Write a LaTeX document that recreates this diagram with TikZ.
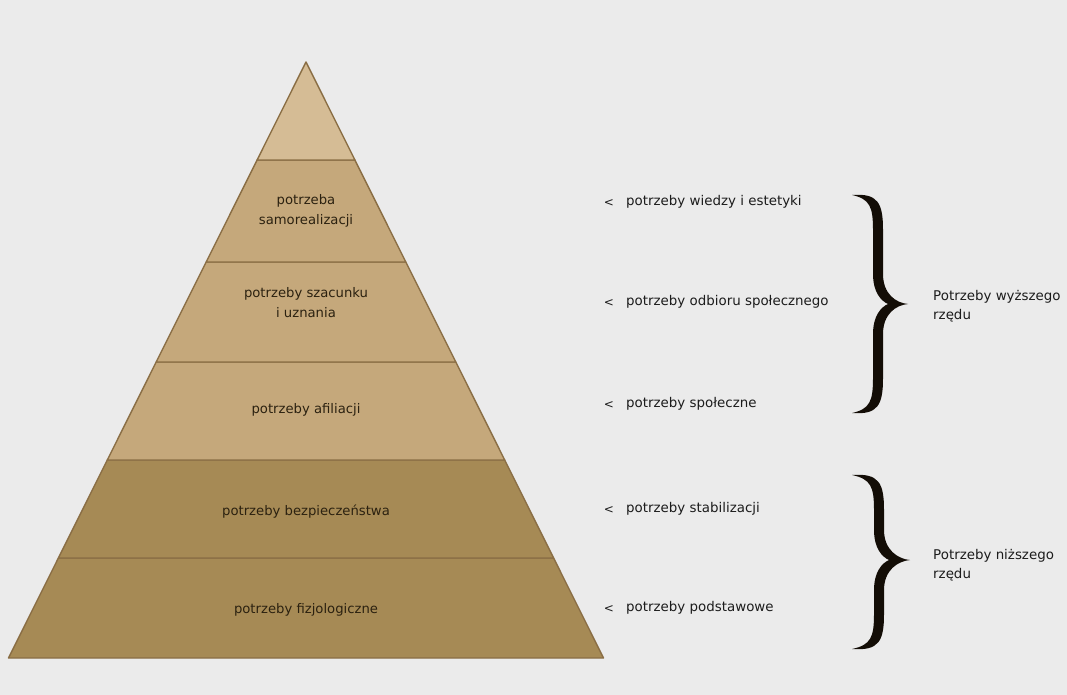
\documentclass[tikz,border=0pt]{standalone}
\usepackage{fontspec}
\setmainfont{DejaVu Sans}
\definecolor{bg}{HTML}{EBEBEB}
\definecolor{tanA}{HTML}{D5BC95}
\definecolor{tanB}{HTML}{C5A87B}
\definecolor{tanC}{HTML}{A68A55}
\definecolor{edgec}{HTML}{8A6E45}
\definecolor{labc}{HTML}{2B2110}
\definecolor{txtc}{HTML}{1C1C1C}
\newcommand{\mybrace}[6]{% #1 top y, #2 tip y, #3 bottom y, #4 end x, #5 stem x, #6 tip x
  \fill[black!90!brown] (#4,#1)
    .. controls (#5,#1-2) and (#5+5,#1+8) .. (#5+5,#1+35)
    -- (#5+5,#2-30)
    .. controls (#5+5,#2-10) and (#6-12,#2-1) .. (#6,#2)
    .. controls (#6-12,#2+1) and (#5+5,#2+10) .. (#5+5,#2+30)
    -- (#5+5,#3-35)
    .. controls (#5+5,#3-8) and (#5,#3+2) .. (#4,#3)
    .. controls (#5-8,#3-4) and (#5-5,#3-12) .. (#5-5,#3-35)
    -- (#5-5,#2+30)
    .. controls (#5-5,#2+12) and (#5+3,#2+3) .. (#5+10,#2)
    .. controls (#5+3,#2-3) and (#5-5,#2-12) .. (#5-5,#2-30)
    -- (#5-5,#1+35)
    .. controls (#5-5,#1+12) and (#5-8,#1+4) .. (#4,#1) -- cycle;}
\begin{document}
\begin{tikzpicture}[x=1pt,y=-1pt,
  band/.style={draw=edgec,line width=1.4pt,line join=round},
  lab/.style={text=labc,font=\fontsize{13.2}{20}\selectfont,align=center,inner sep=0pt},
  rtxt/.style={text=txtc,font=\fontsize{13.4}{20}\selectfont,anchor=west,inner sep=0pt},
  arr/.style={text=txtc,font=\fontsize{12}{14}\selectfont,inner sep=0pt},
  blab/.style={text=txtc,font=\fontsize{13.4}{18.5}\selectfont,anchor=west,align=left,inner sep=0pt}]
\fill[bg] (0,0) rectangle (1067,695);
\useasboundingbox (0,0) rectangle (1067,695);
% pyramid bands
\filldraw[band,fill=tanC] (8.5,658) -- (603.5,658) -- (553.6,558) -- (58.4,558) -- cycle;
\filldraw[band,fill=tanC] (58.4,558) -- (553.6,558) -- (504.7,460) -- (107.3,460) -- cycle;
\filldraw[band,fill=tanB] (107.3,460) -- (504.7,460) -- (455.8,362) -- (156.2,362) -- cycle;
\filldraw[band,fill=tanB] (156.2,362) -- (455.8,362) -- (405.8,262) -- (206.2,262) -- cycle;
\filldraw[band,fill=tanB] (206.2,262) -- (405.8,262) -- (354.9,160) -- (257.1,160) -- cycle;
\filldraw[band,fill=tanA] (257.1,160) -- (354.9,160) -- (306,62) -- cycle;
% pyramid labels
\node[lab] (l1) at (306,211) {potrzeba\\samorealizacji};
\node[lab] (l2) at (306,303) {potrzeby szacunku\\i uznania};
\node[lab] (l3) at (306,410) {potrzeby afiliacji};
\node[lab] (l4) at (306,512) {potrzeby bezpieczeństwa};
\node[lab] (l5) at (306,610) {potrzeby fizjologiczne};
% right column
\node[arr] (a1) at (609,203) {<};
\node[arr] (a2) at (609,303) {<};
\node[arr] (a3) at (609,405) {<};
\node[arr] (a4) at (609,510) {<};
\node[arr] (a5) at (609,609) {<};
\node[rtxt] (r1) at (626,202) {potrzeby wiedzy i estetyki};
\node[rtxt] (r2) at (626,302) {potrzeby odbioru społecznego};
\node[rtxt] (r3) at (626,404) {potrzeby społeczne};
\node[rtxt] (r4) at (626,509) {potrzeby stabilizacji};
\node[rtxt] (r5) at (626,608) {potrzeby podstawowe};
% braces
\mybrace{195}{304}{413}{852}{878}{908}
\mybrace{475}{560}{649}{852}{879}{910}
\node[blab] (b1) at (933,306) {Potrzeby wyższego\\rzędu};
\node[blab] (b2) at (933,565) {Potrzeby niższego\\rzędu};
\end{tikzpicture}
\end{document}
